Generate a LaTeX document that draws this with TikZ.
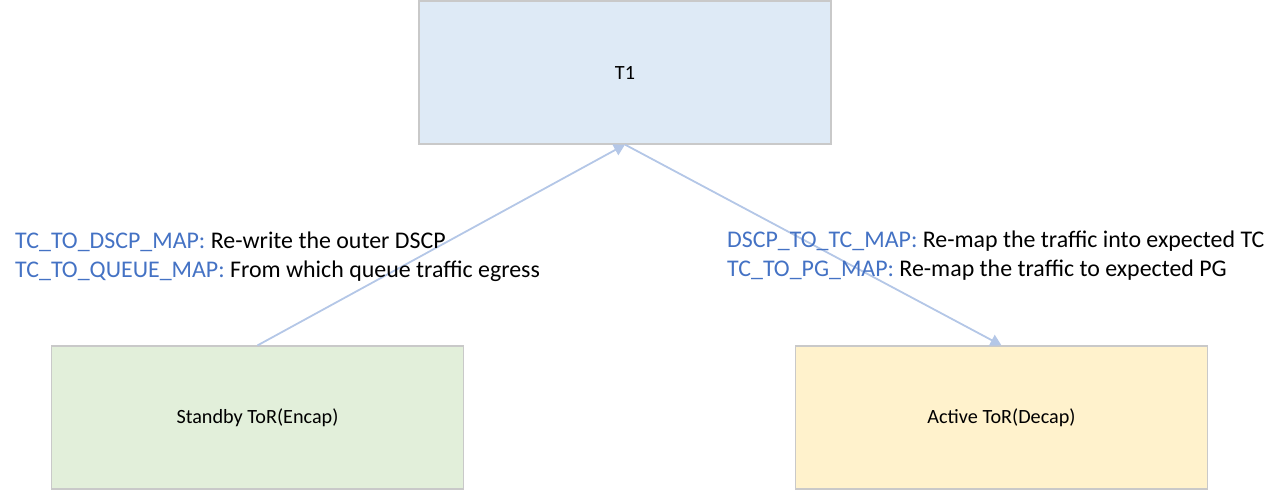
\documentclass[tikz,border=0pt]{standalone}
\usepackage{fontspec}
\setmainfont{Carlito}
\usetikzlibrary{arrows.meta}
\definecolor{boxborder}{HTML}{C9C9C9}
\definecolor{tfill}{HTML}{DEEAF6}
\definecolor{gfill}{HTML}{E2EFDA}
\definecolor{yfill}{HTML}{FFF2CC}
\definecolor{keyblue}{HTML}{4472C4}
\definecolor{arrowblue}{HTML}{B4C7E7}
\begin{document}
\begin{tikzpicture}[x=1pt,y=-1pt,
  box/.style={draw=boxborder, line width=1.2pt, minimum width=412pt, minimum height=143pt, inner sep=0pt, font=\fontsize{20.2}{24}\selectfont},
  conn/.style={draw=arrowblue, line width=1.8pt, -{Triangle[length=11pt,width=12pt]}},
  lbl/.style={anchor=west, inner sep=0pt, align=left, font=\fontsize{23.9}{29}\selectfont}]
\useasboundingbox (0,0) rectangle (1284,491);
\node[box, fill=tfill] (t1) at (625,72.5) {T1};
\node[box, fill=gfill] (sb) at (257.5,417.5) {Standby ToR(Encap)};
\node[box, fill=yfill] (ab) at (1001.5,417.5) {Active ToR(Decap)};
\draw[conn] (sb.north) -- (t1.south);
\draw[conn] (t1.south) -- (ab.north);
\node[lbl] (ll) at (15,256.5) {\textcolor{keyblue}{TC\_TO\_DSCP\_MAP:} Re-write the outer DSCP\\\textcolor{keyblue}{TC\_TO\_QUEUE\_MAP:} From which queue traffic egress};
\node[lbl] (rl) at (727,255.5) {\textcolor{keyblue}{DSCP\_TO\_TC\_MAP:} Re-map the traffic into expected TC\\\textcolor{keyblue}{TC\_TO\_PG\_MAP:} Re-map the traffic to expected PG};
\end{tikzpicture}
\end{document}
